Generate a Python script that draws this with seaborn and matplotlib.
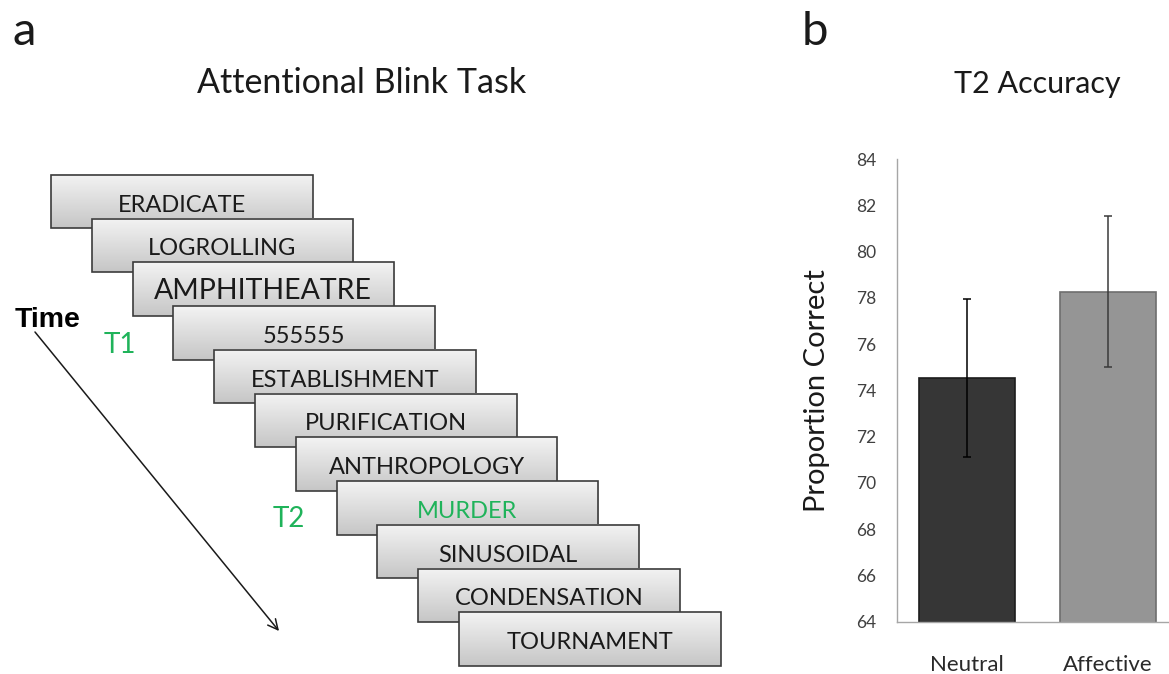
import numpy as np
import pandas as pd
from matplotlib import pyplot as plt
from matplotlib.patches import Rectangle
from matplotlib.colors import LinearSegmentedColormap
import seaborn as sb

'''
Attentional blink stream (a) and T2 accuracy per condition (b)
'''

# RSVP stream shown in panel a
stream_words = ['ERADICATE', 'LOGROLLING', 'AMPHITHEATRE', '555555', 'ESTABLISHMENT',
                'PURIFICATION', 'ANTHROPOLOGY', 'MURDER', 'SINUSOIDAL', 'CONDENSATION',
                'TOURNAMENT']
target_labels = ['T1', 'T2']
target_words = ['555555', 'MURDER']
highlight_words = ['MURDER']

# T2 accuracy, panel b
conditions = ['Neutral', 'Affective']
t2_accuracy = [74.55, 78.27]
t2_error = [3.42, 3.26]

W, H = 1169, 674
GREEN = '#1fb35a'


def stream_panel(ax):
    ax.set_xlim(0, W)
    ax.set_ylim(H, 0)
    ax.axis('off')

    cmap = LinearSegmentedColormap.from_list('box', ['#f3f3f3', '#c6c6c6'])
    grad = np.linspace(0, 1, 100).reshape(-1, 1)
    x_start, y_start, dx, dy = 51, 175, 40.8, 43.73
    bw, bh = 261.5, 53.4
    sizes = {'AMPHITHEATRE': 20.5}

    for i, word in enumerate(stream_words):
        x0 = x_start + i * dx
        y0 = y_start + i * dy
        z = 2 + 3 * i
        ax.imshow(grad, extent=[x0, x0 + bw, y0 + bh, y0], cmap=cmap,
                  aspect='auto', zorder=z, interpolation='bilinear')
        ax.add_patch(Rectangle((x0, y0), bw, bh, facecolor='none',
                               edgecolor='#3c3c3c', lw=1.2, zorder=z + 1))
        col = GREEN if word in highlight_words else '#1a1a1a'
        ax.text(x0 + bw / 2, y0 + bh / 2 + 10, word, ha='center', va='baseline',
                fontsize=sizes.get(word, 17), color=col, zorder=z + 2)

    # target markers next to the stream
    label_pos = {'T1': (120, 353), 'T2': (289, 527)}
    for lab in target_labels:
        lx, ly = label_pos[lab]
        ax.text(lx, ly, lab, ha='center', va='baseline', fontsize=20, color=GREEN)

    ax.text(15, 327, 'Time', ha='left', va='baseline', fontsize=20.5,
            fontweight='bold', family='Liberation Sans', color='black')
    ax.annotate('', xy=(279, 631), xytext=(35, 332),
                arrowprops=dict(arrowstyle='->', color='#1a1a1a', lw=1.1,
                                mutation_scale=18, shrinkA=0, shrinkB=0))

    ax.text(362, 93, 'Attentional Blink Task', ha='center', va='baseline',
            fontsize=24.5, color='#1a1a1a')
    ax.text(1037, 93, 'T2 Accuracy', ha='center', va='baseline',
            fontsize=22, color='#1a1a1a')
    ax.text(13, 45, 'a', ha='left', va='baseline', fontsize=34, color='#1a1a1a')
    ax.text(802, 45, 'b', ha='left', va='baseline', fontsize=34, color='#1a1a1a')


def accuracy_panel(ax):
    df = pd.DataFrame({'condition': conditions, 'accuracy': t2_accuracy})
    bar_colors = ['#363636', '#959595']
    edge_colors = ['#1c1c1c', '#6e6e6e']
    err_colors = ['#000000', '#3a3a3a']
    sb.barplot(data=df, x='condition', y='accuracy', hue='condition',
               palette=bar_colors, legend=False, width=0.684, errorbar=None,
               saturation=1, ax=ax)
    for p, ec in zip(ax.patches, edge_colors):
        p.set_edgecolor(ec)
        p.set_linewidth(1.2)
    for i in range(len(conditions)):
        ax.errorbar(i, t2_accuracy[i], yerr=t2_error[i], fmt='none',
                    ecolor=err_colors[i], elinewidth=1.1, capsize=3, capthick=1.1,
                    zorder=5)

    ax.set_xlim(-0.5, 1.435)
    ax.set_ylim(64, 84)
    ax.set_yticks(np.arange(64, 85, 2))
    ax.set_xticks([-0.5, 0.5], minor=True)
    ax.set_xlabel('')
    ax.set_ylabel('Proportion Correct', fontsize=21, color='#1a1a1a', labelpad=19)
    for s in ['top', 'right']:
        ax.spines[s].set_visible(False)
    for s in ['left', 'bottom']:
        ax.spines[s].set_color('#a6a6a6')
        ax.spines[s].set_linewidth(1)
    ax.tick_params(axis='y', length=7, color='#a6a6a6', labelcolor='#404040',
                   labelsize=12.5, pad=8)
    ax.tick_params(axis='x', which='major', length=0, labelsize=16,
                   labelcolor='#2a2a2a', pad=24)
    ax.tick_params(axis='x', which='minor', length=7, color='#a6a6a6')
    ax.patch.set_alpha(0)


if __name__ == "__main__":
    sb.set_style('white')
    plt.rcParams['font.family'] = ['Lato', 'DejaVu Sans']

    fig = plt.figure(figsize=(W / 100, H / 100), dpi=100)
    ax0 = fig.add_axes([0, 0, 1, 1])
    stream_panel(ax0)

    ax1 = fig.add_axes([897 / W, (H - 621.7) / H, (W - 897) / W, (621.7 - 159) / H])
    accuracy_panel(ax1)

    plt.savefig('out.png', dpi=100)
